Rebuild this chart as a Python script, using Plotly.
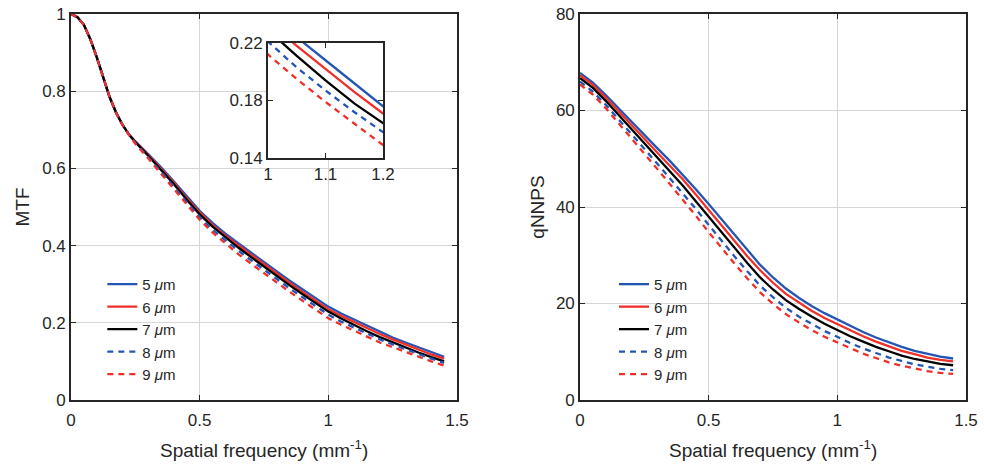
import plotly.graph_objects as go

# ---------------- data ----------------
freq_mtf = [0, 0.025, 0.05, 0.075, 0.1, 0.125, 0.15, 0.175, 0.2, 0.225, 0.25,
            0.3, 0.35, 0.4, 0.45, 0.5, 0.55, 0.6, 0.65, 0.7, 0.75, 0.8, 0.85, 0.9, 0.95,
            1.0, 1.05, 1.1, 1.15, 1.2, 1.25, 1.3, 1.35, 1.4, 1.45]
mtf_5 = [1.0, 0.992, 0.972, 0.935, 0.888, 0.835, 0.785, 0.745, 0.713, 0.688, 0.670,
         0.637, 0.603, 0.566, 0.527, 0.490, 0.459, 0.431, 0.406, 0.381, 0.357, 0.333, 0.309, 0.287, 0.264,
         0.242, 0.224, 0.208, 0.192, 0.176, 0.162, 0.149, 0.136, 0.123, 0.112]
mtf_6 = [1.0, 0.992, 0.972, 0.935, 0.888, 0.835, 0.785, 0.745, 0.713, 0.688, 0.669,
         0.635, 0.600, 0.563, 0.523, 0.486, 0.454, 0.426, 0.401, 0.376, 0.351, 0.327, 0.303, 0.280, 0.257,
         0.235, 0.218, 0.202, 0.186, 0.171, 0.157, 0.144, 0.130, 0.118, 0.107]
mtf_7 = [1.0, 0.992, 0.972, 0.935, 0.888, 0.835, 0.785, 0.745, 0.713, 0.688, 0.668,
         0.633, 0.597, 0.559, 0.519, 0.481, 0.449, 0.421, 0.395, 0.370, 0.345, 0.321, 0.297, 0.274, 0.251,
         0.229, 0.211, 0.194, 0.178, 0.163, 0.149, 0.136, 0.123, 0.111, 0.100]
mtf_8 = [1.0, 0.992, 0.972, 0.935, 0.888, 0.835, 0.785, 0.745, 0.713, 0.688, 0.666,
         0.629, 0.592, 0.553, 0.512, 0.474, 0.441, 0.413, 0.387, 0.362, 0.337, 0.313, 0.289, 0.266, 0.243,
         0.221, 0.203, 0.187, 0.172, 0.157, 0.144, 0.131, 0.118, 0.107, 0.096]
mtf_9 = [1.0, 0.992, 0.972, 0.935, 0.888, 0.835, 0.785, 0.745, 0.713, 0.687, 0.664,
         0.626, 0.587, 0.547, 0.506, 0.467, 0.434, 0.405, 0.378, 0.353, 0.328, 0.304, 0.280, 0.257, 0.234,
         0.212, 0.195, 0.179, 0.164, 0.149, 0.137, 0.124, 0.111, 0.100, 0.089]

freq_nps = [0, 0.05, 0.1, 0.15, 0.2, 0.25, 0.3, 0.35, 0.4, 0.45, 0.5, 0.55, 0.6, 0.65, 0.7,
            0.75, 0.8, 0.85, 0.9, 0.95, 1.0, 1.05, 1.1, 1.15, 1.2, 1.25, 1.3, 1.35, 1.4, 1.45]
nps_5 = [67.8, 65.8, 63.2, 60.4, 57.6, 54.9, 52.2, 49.5, 46.7, 43.7, 40.6, 37.4, 34.2, 31.0, 28.0,
         25.4, 23.1, 21.2, 19.5, 18.0, 16.7, 15.35, 14.1, 12.95, 11.9, 11.0, 10.2, 9.55, 9.0, 8.6]
nps_6 = [67.3, 65.3, 62.7, 59.8, 56.9, 54.1, 51.3, 48.5, 45.7, 42.6, 39.4, 36.2, 33.0, 29.8, 26.9,
         24.3, 22.0, 20.2, 18.5, 17.0, 15.7, 14.4, 13.2, 12.1, 11.1, 10.2, 9.5, 8.8, 8.3, 8.0]
nps_7 = [66.7, 64.7, 62.0, 59.1, 56.1, 53.2, 50.3, 47.3, 44.4, 41.2, 38.0, 34.7, 31.5, 28.4, 25.4,
         22.9, 20.7, 18.9, 17.3, 15.8, 14.5, 13.2, 12.1, 11.0, 10.1, 9.2, 8.5, 8.0, 7.5, 7.2]
nps_8 = [66.0, 63.9, 61.2, 58.2, 55.1, 52.1, 49.0, 45.9, 42.8, 39.6, 36.3, 33.0, 29.8, 26.7, 23.7,
         21.3, 19.1, 17.3, 15.8, 14.3, 13.1, 11.8, 10.7, 9.7, 8.8, 8.1, 7.4, 6.9, 6.45, 6.2]
nps_9 = [65.4, 63.3, 60.5, 57.4, 54.2, 51.1, 47.9, 44.7, 41.5, 38.2, 34.8, 31.5, 28.3, 25.2, 22.3,
         19.9, 17.8, 16.1, 14.5, 13.1, 11.9, 10.7, 9.6, 8.7, 7.8, 7.1, 6.5, 6.0, 5.6, 5.4]

labels = ["5 <i>μ</i>m", "6 <i>μ</i>m", "7 <i>μ</i>m", "8 <i>μ</i>m", "9 <i>μ</i>m"]
x_ticks = [0, 0.5, 1, 1.5]
mtf_ticks = [0, 0.2, 0.4, 0.6, 0.8, 1]
nps_ticks = [0, 20, 40, 60, 80]
inset_x_ticks = [1, 1.1, 1.2]
inset_y_ticks = [0.14, 0.18, 0.22]
x_title = "Spatial frequency (mm<sup>-1</sup>)"

# ---------------- style ----------------
BLUE = "#2356b4"
RED = "#ef2f2a"
BLACK = "#000000"
styles = [(BLUE, "solid"), (RED, "solid"), (BLACK, "solid"), (BLUE, "6px,5px"), (RED, "6px,5px")]
FONT = "Liberation Sans, Arial, Helvetica, sans-serif"
AX = "#262626"
GRID = "#d6d6d6"
W, H = 984, 470

fig = go.Figure()

mtf_series = [mtf_5, mtf_6, mtf_7, mtf_8, mtf_9]
nps_series = [nps_5, nps_6, nps_7, nps_8, nps_9]

for lab, ys, (c, d) in zip(labels, mtf_series, styles):
    fig.add_trace(go.Scatter(x=freq_mtf, y=ys, mode="lines", name=lab,
                             line=dict(color=c, dash=d, width=2.3),
                             xaxis="x", yaxis="y", legend="legend"))
for lab, ys, (c, d) in zip(labels, nps_series, styles):
    fig.add_trace(go.Scatter(x=freq_nps, y=ys, mode="lines", name=lab,
                             line=dict(color=c, dash=d, width=2.3),
                             xaxis="x2", yaxis="y2", legend="legend2"))
for lab, ys, (c, d) in zip(labels, mtf_series, styles):
    fig.add_trace(go.Scatter(x=freq_mtf, y=ys, mode="lines", name=lab, showlegend=False,
                             line=dict(color=c, dash=d, width=2.3),
                             xaxis="x3", yaxis="y3"))

def ax(**kw):
    base = dict(showline=True, linecolor=AX, linewidth=1.6, mirror="ticks", automargin=False,
                ticks="inside", ticklen=5, tickwidth=1.3, tickcolor=AX,
                showgrid=True, gridcolor=GRID, gridwidth=1.2, zeroline=False,
                tickfont=dict(family=FONT, size=17, color=AX))
    base.update(kw)
    return base

fig.update_layout(
    width=W, height=H,
    margin=dict(l=0, r=0, t=0, b=0),
    paper_bgcolor="white", plot_bgcolor="white",
    xaxis=ax(domain=[71/W, 457/W], range=[0, 1.5], tickvals=x_ticks, anchor="y", ticklabelstandoff=4),
    yaxis=ax(domain=[70/H, 456/H], range=[0, 1], tickvals=mtf_ticks, anchor="x",
             title=dict(text="MTF", font=dict(family=FONT, size=19, color=AX), standoff=8)),
    xaxis2=ax(domain=[580/W, 966/W], range=[0, 1.5], tickvals=x_ticks, anchor="y2", ticklabelstandoff=4),
    yaxis2=ax(domain=[70/H, 456/H], range=[0, 80], tickvals=nps_ticks, anchor="x2",
              title=dict(text="qNNPS", font=dict(family=FONT, size=19, color=AX), standoff=6)),
    xaxis3=ax(domain=[268/W, 383/W], range=[1, 1.2], tickvals=inset_x_ticks, anchor="y3",
              showgrid=False, linewidth=2),
    yaxis3=ax(domain=[(H-158)/H, (H-43)/H], range=[0.14, 0.22], tickvals=inset_y_ticks,
              anchor="x3", showgrid=False, linewidth=2, tickformat=".2f"),
    legend=dict(x=0.104, y=0.43, xanchor="left", yanchor="top", bgcolor="rgba(0,0,0,0)",
                borderwidth=0, font=dict(family=FONT, size=15, color=AX), tracegroupgap=0),
    legend2=dict(x=0.624, y=0.43, xanchor="left", yanchor="top", bgcolor="rgba(0,0,0,0)",
                 borderwidth=0, font=dict(family=FONT, size=15, color=AX), tracegroupgap=0),
    showlegend=True,
    annotations=[
        dict(text=x_title, xref="x domain", yref="paper", x=0.5, y=(H-449)/H,
             xanchor="center", yanchor="middle", showarrow=False,
             font=dict(family=FONT, size=19, color=AX)),
        dict(text=x_title, xref="x2 domain", yref="paper", x=0.5, y=(H-449)/H,
             xanchor="center", yanchor="middle", showarrow=False,
             font=dict(family=FONT, size=19, color=AX)),
    ],
)

fig.write_html("out.html", config={"displayModeBar": False},
               post_script="document.body.style.margin='0';")
